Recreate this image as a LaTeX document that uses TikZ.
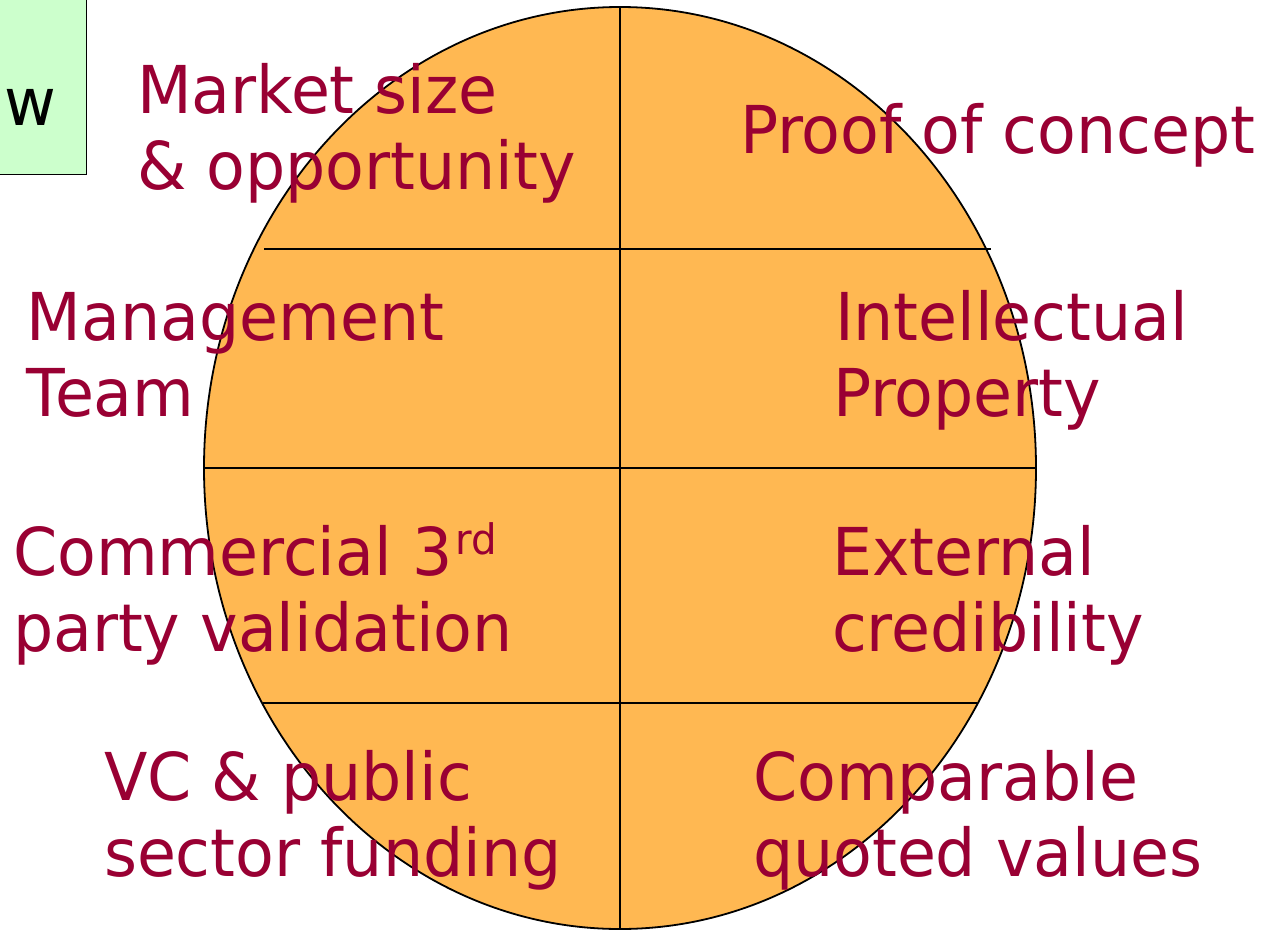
\documentclass[tikz,border=0pt]{standalone}
\usepackage{fontspec}
\setmainfont[FakeStretch=0.96]{DejaVu Sans}
\definecolor{txtred}{HTML}{990033}
\definecolor{orangefill}{HTML}{FFB852}
\definecolor{boxgreen}{HTML}{CCFFCC}
\newcommand{\twolines}[2]{\begin{tabular}[t]{@{}l@{}}#1\\#2\end{tabular}}
\newcommand{\supsmall}[1]{\hspace{3pt}\raisebox{21pt}{\fontsize{42}{42}\selectfont #1}}
\begin{document}
\begin{tikzpicture}[x=1pt,y=-1pt,
  lbl/.style={anchor=base west, inner sep=0pt, outer sep=0pt, text=txtred,
    font=\fontsize{66}{76}\selectfont},
  divider/.style={draw=black, line width=1.8pt}]
\useasboundingbox (0,0) rectangle (1273,929);
% green box
\node[draw=black, fill=boxgreen, line width=1.3pt, minimum width=88pt, minimum height=176pt,
  anchor=north west, inner sep=0pt] (gbox) at (-2,-2) {};
\node[anchor=base west, inner sep=0pt, font=\fontsize{66}{76}\selectfont] (wtext) at (4,125) {w};
% ellipse
\draw[fill=orangefill, line width=1.8pt] (620,468) ellipse [x radius=416, y radius=461];
% dividers
\coordinate (v1) at (620,7); \coordinate (v2) at (620,929);
\coordinate (h1a) at (264,249); \coordinate (h1b) at (991,249);
\coordinate (h2a) at (204,468); \coordinate (h2b) at (1036,468);
\coordinate (h3a) at (263,703); \coordinate (h3b) at (977,703);
\draw[divider] (v1) -- (v2);
\draw[divider] (h1a) -- (h1b);
\draw[divider] (h2a) -- (h2b);
\draw[divider] (h3a) -- (h3b);
% labels
\node[lbl] (market) at (137,113) {\twolines{Market size}{\& opportunity}};
\node[lbl] (proof) at (740,153) {Proof of concept};
\node[lbl] (mgmt) at (27,340) {\twolines{Management}{Team}};
\node[lbl] (ip) at (833,340) {\twolines{\hspace{2pt}Intellectual}{Property}};
\node[lbl] (comm) at (13,575) {\twolines{Commercial 3\supsmall{rd}}{party validation}};
\node[lbl] (ext) at (832,575) {\twolines{External}{credibility}};
\node[lbl] (vc) at (104,800) {\twolines{VC \& public}{sector funding}};
\node[lbl] (comp) at (753,800) {\twolines{Comparable}{quoted values}};
\end{tikzpicture}
\end{document}
